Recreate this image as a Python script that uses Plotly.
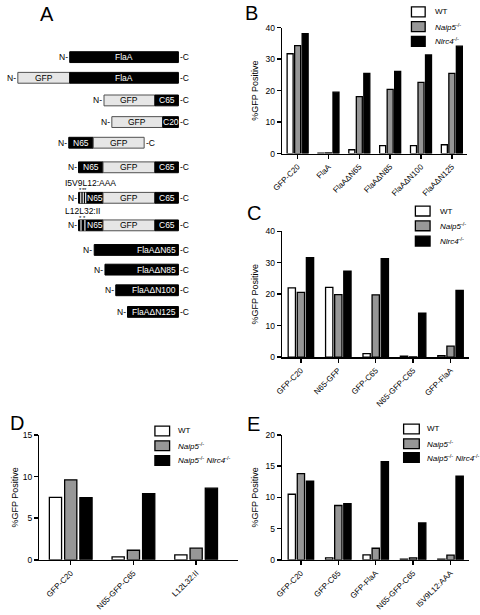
import plotly.graph_objects as go

FONT = "Arial, 'Liberation Sans', Helvetica, sans-serif"
W, H = 480, 615

# ---------------- data ----------------
# Panel B
b_categories = ["GFP-C20", "FlaA", "FlaAΔN65", "FlaAΔN85", "FlaAΔN100", "FlaAΔN125"]
b_wt = [31.7, 0.1, 1.2, 2.5, 2.5, 2.8]
b_naip5 = [34.3, 0.2, 18.1, 20.4, 22.6, 25.5]
b_nlrc4 = [38.1, 19.5, 25.5, 26.1, 31.3, 34.1]

# Panel C
c_categories = ["GFP-C20", "N65-GFP", "GFP-C65", "N65-GFP-C65", "GFP-FlaA"]
c_wt = [22.0, 22.2, 1.1, 0.3, 0.5]
c_naip5 = [20.6, 19.9, 19.8, 0.1, 3.5]
c_nlrc4 = [31.6, 27.3, 31.3, 14.0, 21.2]

# Panel D
d_categories = ["GFP-C20", "N65-GFP-C65", "L12L32:II"]
d_wt = [7.5, 0.35, 0.6]
d_naip5 = [9.6, 1.15, 1.4]
d_double = [7.45, 7.95, 8.6]

# Panel E
e_categories = ["GFP-C20", "GFP-C65", "GFP-FlaA", "N65-GFP-C65", "I5V9L12:AAA"]
e_wt = [10.5, 0.3, 0.8, 0.1, 0.1]
e_naip5 = [13.8, 8.7, 1.85, 0.3, 0.75]
e_double = [12.6, 9.0, 15.7, 5.9, 13.4]

# legend names
n_wt = "WT"
n_naip5 = "<i>Naip5</i><sup>-/-</sup>"
n_nlrc4 = "<i>Nlrc4</i><sup>-/-</sup>"
n_double = "<i>Naip5</i><sup>-/-</sup> <i>Nlrc4</i><sup>-/-</sup>"

# Panel A: construct schematics (schematic units along the protein)
a_constructs = ["FlaA", "GFP-FlaA", "GFP-C65", "GFP-C20", "N65-GFP", "N65-GFP-C65",
                "I5V9L12:AAA", "L12L32:II", "FlaAΔN65", "FlaAΔN85", "FlaAΔN100", "FlaAΔN125"]
a_segments = [
    [("FlaA", 61, 172, "dark")],
    [("GFP", 8, 61, "light"), ("FlaA", 61, 172, "dark")],
    [("GFP", 96, 148, "light"), ("C65", 148, 172, "dark")],
    [("GFP", 104, 156, "light"), ("C20", 156, 172, "dark")],
    [("N65", 60, 85, "dark"), ("GFP", 85, 137, "light")],
    [("N65", 70, 95, "dark"), ("GFP", 95, 148, "light"), ("C65", 148, 172, "dark")],
    [("", 70, 78, "dark"), ("N65", 78, 95, "dark"), ("GFP", 95, 148, "light"), ("C65", 148, 172, "dark")],
    [("", 70, 78, "dark"), ("N65", 78, 95, "dark"), ("GFP", 95, 148, "light"), ("C65", 148, 172, "dark")],
    [("FlaAΔN65", 86, 172, "dark")],
    [("FlaAΔN85", 97, 172, "dark")],
    [("FlaAΔN100", 108, 172, "dark")],
    [("FlaAΔN125", 120, 172, "dark")],
]
a_mutations = [[], [], [], [], [], [], [72.3, 74.8, 77.3], [72.5, 76.5], [], [], [], []]
a_labelled = ["I5V9L12:AAA", "L12L32:II"]

# ---------------- layout helpers ----------------
a_row_pos = [53, 74, 97, 119, 140, 165, 196, 224, 249, 269, 290, 312]  # vertical track (px)

GRAY = "#979797"
fig = go.Figure()
annotations = []
shapes = []


def legend_block(names, colors, box_x0, box_x1, centers, text_x):
    for name, col, cy in zip(names, colors, centers):
        shapes.append(dict(type="rect", xref="paper", yref="paper",
                           x0=box_x0 / W, x1=box_x1 / W, y0=1 - (cy + 5) / H, y1=1 - (cy - 5) / H,
                           fillcolor=col, line=dict(color="black", width=1.3)))
        annotations.append(dict(x=text_x / W, y=1 - cy / H, xref="paper", yref="paper", text=name,
                                xanchor="left", yanchor="middle", showarrow=False,
                                font=dict(family=FONT, size=8, color="black")))


def add_group(xa, ya, cats, series):
    for name, vals, col in series:
        fig.add_trace(go.Bar(
            x=cats, y=vals, name=name, xaxis=xa, yaxis=ya, showlegend=False,
            marker=dict(color=col, line=dict(color="black", width=1.3)),
            hoverinfo="skip",
        ))


cols3 = ["white", GRAY, "black"]
add_group("x", "y", b_categories, list(zip([n_wt, n_naip5, n_nlrc4], [b_wt, b_naip5, b_nlrc4], cols3)))
add_group("x2", "y2", c_categories, list(zip([n_wt, n_naip5, n_nlrc4], [c_wt, c_naip5, c_nlrc4], cols3)))
add_group("x3", "y3", d_categories, list(zip([n_wt, n_naip5, n_double], [d_wt, d_naip5, d_double], cols3)))
add_group("x4", "y4", e_categories, list(zip([n_wt, n_naip5, n_double], [e_wt, e_naip5, e_double], cols3)))

legend_block([n_wt, n_naip5, n_nlrc4], cols3, 410, 424, [7, 22, 37], 432)
legend_block([n_wt, n_naip5, n_nlrc4], cols3, 414, 429, [209.5, 224.5, 240], 437)
legend_block([n_wt, n_naip5, n_double], cols3, 148, 163, [433, 448, 463], 170)
legend_block([n_wt, n_naip5, n_double], cols3, 402, 418, [431, 446, 460], 424)

# Panel A boxes
seg_y, seg_base, seg_len, seg_fill, seg_line = [], [], [], [], []
for cname, segs, yp in zip(a_constructs, a_segments, a_row_pos):
    start = min(s[1] for s in segs)
    end = max(s[2] for s in segs)
    for label, s0, s1, kind in segs:
        seg_y.append(yp)
        seg_base.append(s0)
        seg_len.append(s1 - s0)
        seg_fill.append("black" if kind == "dark" else "#e6e6e6")
        seg_line.append("black" if kind == "dark" else "#505050")
        if not label:
            continue
        if label.startswith("FlaAΔ"):
            annotations.append(dict(x=s1 - 0.5, y=yp, xref="x5", yref="y5", text=label,
                                    xanchor="right", yanchor="middle", showarrow=False,
                                    font=dict(family=FONT, size=8.5, color="white")))
        else:
            annotations.append(dict(x=(s0 + s1) / 2, y=yp, xref="x5", yref="y5", text=label,
                                    xanchor="center", yanchor="middle", showarrow=False,
                                    font=dict(family=FONT, size=8.5,
                                              color="white" if kind == "dark" else "black")))
    annotations.append(dict(x=start, y=yp, xref="x5", yref="y5", text="N-", xanchor="right",
                            yanchor="middle", showarrow=False, font=dict(family=FONT, size=8.5, color="black")))
    annotations.append(dict(x=end, y=yp, xref="x5", yref="y5", text="-C", xanchor="left",
                            yanchor="middle", showarrow=False, font=dict(family=FONT, size=8.5, color="black")))
    if cname in a_labelled:
        annotations.append(dict(x=54, y=yp - 15, xref="x5", yref="y5", text=cname, xanchor="left",
                                yanchor="middle", showarrow=False, font=dict(family=FONT, size=8.5, color="black")))

fig.add_trace(go.Bar(
    y=seg_y, x=seg_len, base=seg_base, orientation="h", width=11,
    xaxis="x5", yaxis="y5", showlegend=False, hoverinfo="skip",
    marker=dict(color=seg_fill, line=dict(color=seg_line, width=1)),
))

mx, my = [], []
for muts, yp in zip(a_mutations, a_row_pos):
    for m in muts:
        mx += [m, m, None]
        my += [yp - 5.5, yp + 5.5, None]
        annotations.append(dict(x=m, y=yp - 7.5, xref="x5", yref="y5", text="*", xanchor="center",
                                yanchor="middle", showarrow=False, font=dict(family=FONT, size=6, color="black")))
fig.add_trace(go.Scatter(x=mx, y=my, mode="lines", line=dict(color="white", width=1.1),
                         xaxis="x5", yaxis="y5", showlegend=False, hoverinfo="skip"))

# panel letters
for letter, px, py in [("A", 38, 9), ("B", 247, 8), ("C", 249, 211), ("D", 7, 425), ("E", 249, 426)]:
    annotations.append(dict(x=px / W, y=1 - py / H, xref="paper", yref="paper", text=letter,
                            xanchor="center", yanchor="middle", showarrow=False,
                            font=dict(family=FONT, size=20, color="black")))


def xdom(a, b):
    return [a / W, b / W]


def ydom(top, bottom):
    return [1 - bottom / H, 1 - top / H]


def xax(dom, rng, anchor):
    return dict(domain=dom, range=rng, anchor=anchor, type="category", showline=True,
                linecolor="black", linewidth=1.5, ticks="outside", ticklen=4, tickwidth=1.5,
                tickcolor="black", tickangle=-45, showgrid=False, zeroline=False,
                tickfont=dict(family=FONT, size=8, color="black"), fixedrange=True)


def yax(dom, rng, dtick, anchor, standoff):
    return dict(domain=dom, range=rng, anchor=anchor, dtick=dtick, showline=True,
                linecolor="black", linewidth=1.5, ticks="outside", ticklen=4, tickwidth=1.5,
                tickcolor="black", showgrid=False, zeroline=False,
                tickfont=dict(family=FONT, size=8.5, color="black"),
                title=dict(text="%GFP Positive", standoff=standoff,
                           font=dict(family=FONT, size=9, color="black")), fixedrange=True)


fig.update_layout(
    width=W, height=H, margin=dict(l=0, r=0, t=0, b=0),
    paper_bgcolor="white", plot_bgcolor="rgba(0,0,0,0)",
    barmode="group", bargap=0.27, bargroupgap=0.2,
    font=dict(family=FONT, color="black"),
    xaxis=xax(xdom(278, 467), [-0.5, 5.5], "y"),
    yaxis=yax(ydom(23, 151), [0, 40], 10, "x", 5),
    xaxis2=xax(xdom(278, 469), [-0.5, 4.5], "y2"),
    yaxis2=yax(ydom(230, 358), [0, 40], 10, "x2", 5),
    xaxis3=xax(xdom(30, 233), [-0.5, 2.67], "y3"),
    yaxis3=yax(ydom(437, 564), [0, 15], 5, "x3", 2),
    xaxis4=xax(xdom(278, 469), [-0.5, 4.5], "y4"),
    yaxis4=yax(ydom(437, 564), [0, 20], 5, "x4", 5),
    xaxis5=dict(domain=[0, 200 / W], range=[0, 200], anchor="y5", visible=False, fixedrange=True),
    yaxis5=dict(domain=ydom(30, 330), range=[330, 30], anchor="x5", visible=False, fixedrange=True),
    annotations=annotations,
    shapes=shapes,
    showlegend=False,
)

fig.write_html("out.html", config={"staticPlot": True},
               post_script="document.body.style.margin='0';document.body.style.overflow='hidden';")
